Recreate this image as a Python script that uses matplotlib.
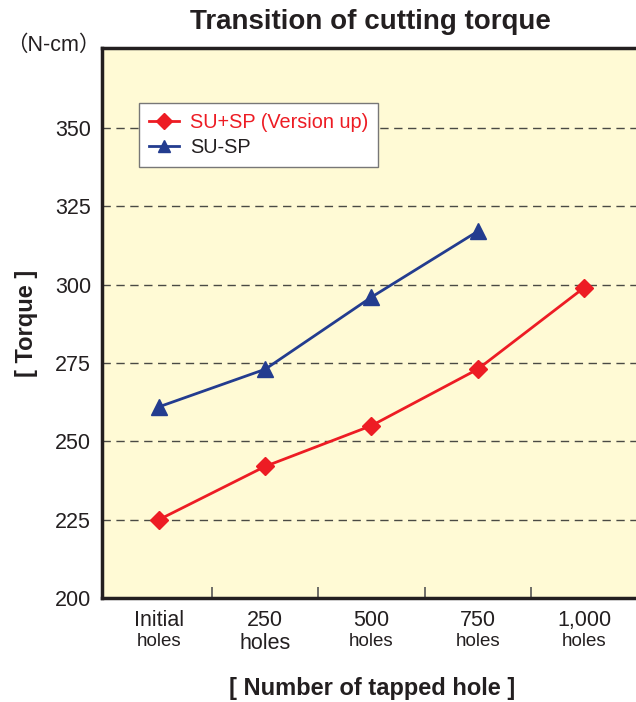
import matplotlib
matplotlib.use("Agg")
import matplotlib.pyplot as plt
from matplotlib.transforms import blended_transform_factory

plt.rcParams['font.family'] = ['Liberation Sans', 'Noto Sans CJK JP', 'DejaVu Sans']

# Data
cat_top = ["Initial", "250", "500", "750", "1,000"]
cat_bottom = ["holes", "holes", "holes", "holes", "holes"]
su_sp_vup = [225, 242, 255, 273, 299]
su_sp = [261, 273, 296, 317]
y_ticks = [200, 225, 250, 275, 300, 325, 350]
series_names = ["SU+SP (Version up)", "SU-SP"]

title = "Transition of cutting torque"
ylab = "[ Torque ]"
xlab = "[ Number of tapped hole ]"
unit = "（N-cm）"

RED = "#ED1C24"
BLUE = "#233C8F"
DARK = "#231F20"

fig = plt.figure(figsize=(6.36, 7.02), dpi=100)
ax = fig.add_axes([102/636, (702-598)/702, (642-102)/636, (598-48)/702])
ax.set_facecolor("#FFFAD5")

x_red = list(range(len(su_sp_vup)))
x_blue = list(range(len(su_sp)))
ax.plot(x_red, su_sp_vup, color=RED, lw=2.0, marker="D", ms=9.5,
        mec=RED, mfc=RED, label=series_names[0], zorder=4)
ax.plot(x_blue, su_sp, color=BLUE, lw=2.0, marker="^", ms=11,
        mec=BLUE, mfc=BLUE, label=series_names[1], zorder=4)

ax.set_xlim(-0.536, 4.546)
ax.set_ylim(200, 375.5)
ax.set_yticks(y_ticks)
ax.set_yticklabels([str(v) for v in y_ticks], fontsize=15.5, color=DARK)
ax.tick_params(axis="y", length=0, pad=8)

for v in y_ticks[1:]:
    ax.axhline(v, color="#4a4a44", lw=1.0, ls=(0, (6, 4)), zorder=1)

ax.set_xticks([0.5, 1.5, 2.5, 3.5])
ax.set_xticklabels([])
ax.tick_params(axis="x", direction="in", length=8, width=1.2, color="#555555")

for s in ["left", "bottom", "top"]:
    ax.spines[s].set_linewidth(2.5)
    ax.spines[s].set_color(DARK)
ax.spines["right"].set_visible(False)

trans = blended_transform_factory(ax.transData, ax.transAxes)
top_sizes = [15.5, 15.5, 15.5, 15.5, 15.5]
bot_sizes = [13.5, 15.5, 13.5, 13.5, 13.5]
for i, (t, b) in enumerate(zip(cat_top, cat_bottom)):
    ax.text(i, -0.021, t, transform=trans, ha="center", va="top",
            fontsize=top_sizes[i], color=DARK)
    ax.text(i, -0.064, b, transform=trans, ha="center", va="top",
            fontsize=bot_sizes[i], color=DARK)

fig.text(370/636, 1 - 22/702, title, ha="center", va="center",
         fontsize=20, fontweight="bold", color=DARK)
fig.text(53/636, 1 - 45/702, unit, ha="center", va="center",
         fontsize=15.5, color=DARK)
fig.text(27/636, 1 - 323/702, ylab, ha="center", va="center",
         rotation=90, fontsize=17, fontweight="bold", color=DARK)
fig.text(372/636, 1 - 688/702, xlab, ha="center", va="center",
         fontsize=17, fontweight="bold", color=DARK)

leg = ax.legend(loc="upper left", bbox_to_anchor=((139-102)/540, 1 - (103-48)/550),
                frameon=True, fancybox=False, fontsize=14.3, handlelength=1.5,
                borderpad=0.5, labelspacing=0.3, handletextpad=0.55,
                borderaxespad=0)
leg.get_frame().set_edgecolor("#777777")
leg.get_frame().set_linewidth(1.0)
leg.get_frame().set_facecolor("white")
leg.get_frame().set_alpha(1)
for txt, c in zip(leg.get_texts(), [RED, DARK]):
    txt.set_color(c)
for h in leg.legend_handles:
    h.set_markersize(8)

fig.savefig("out.png", dpi=100)
